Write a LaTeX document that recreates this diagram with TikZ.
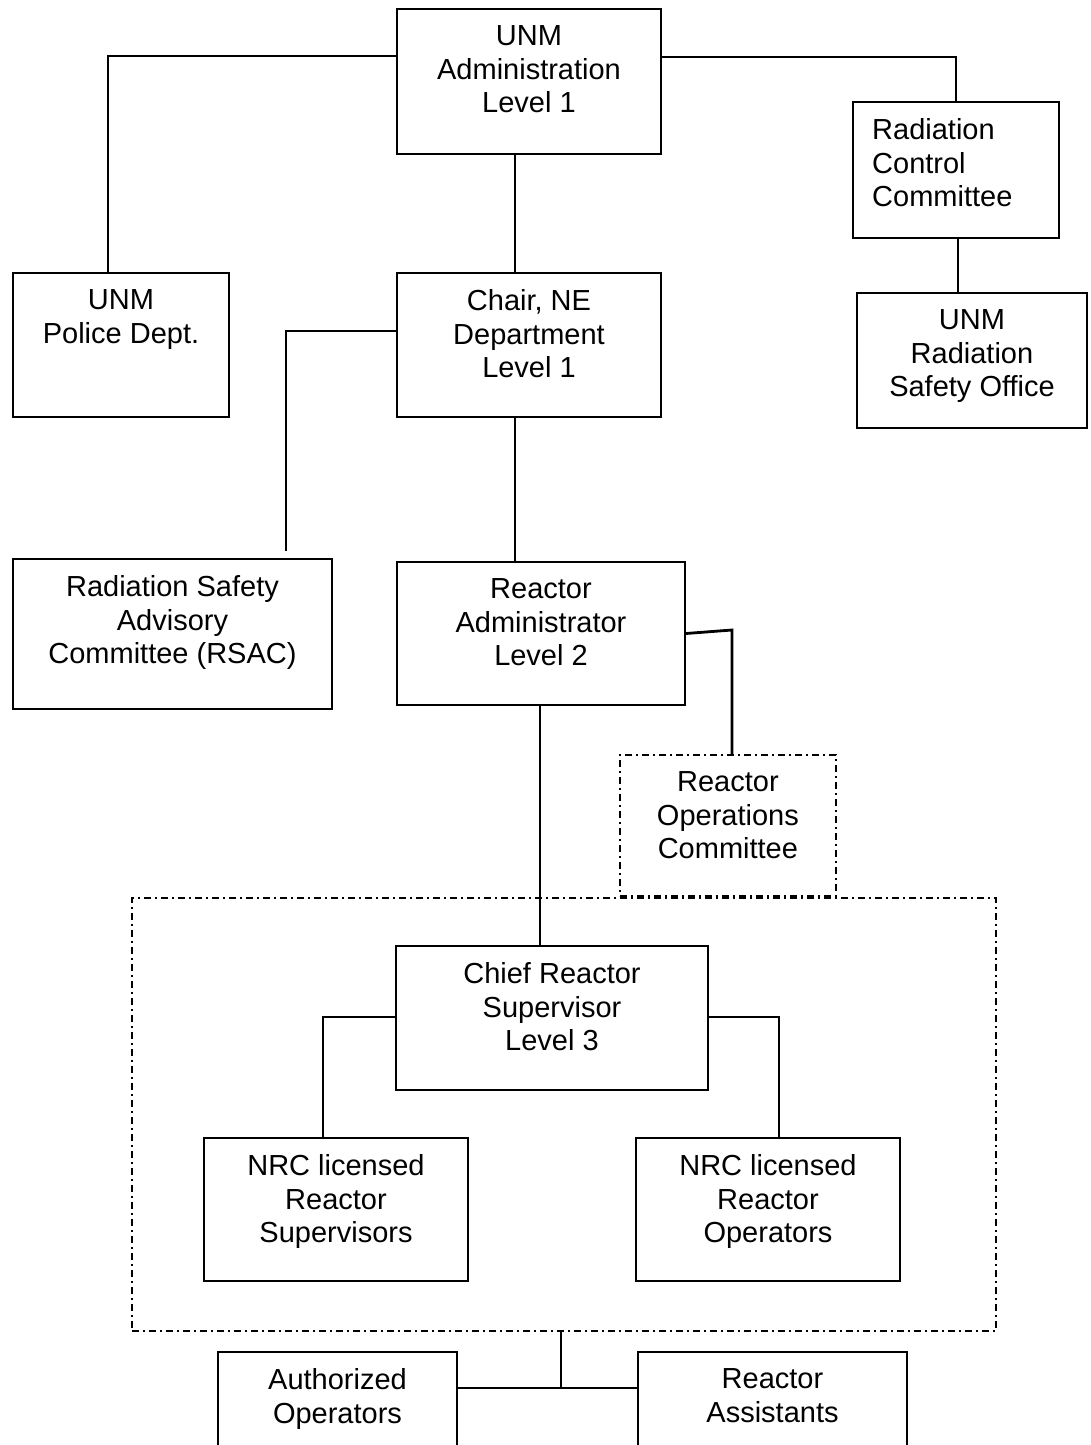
\documentclass[tikz,border=0pt]{standalone}
\usepackage{fontspec}
\setmainfont{Liberation Sans}
\begin{document}
\begin{tikzpicture}[x=1pt,y=-1pt,
  box/.style={draw, line width=2pt, inner sep=0pt, anchor=north west},
  ddbox/.style={draw, line width=1.8pt, inner sep=0pt, anchor=north west, dash pattern=on 7pt off 4pt on 2pt off 4pt},
  lbl/.style={anchor=north, inner sep=0pt, align=center, font=\fontsize{29}{33.5}\selectfont},
  conn/.style={line width=2.8pt},
  thinconn/.style={line width=2pt}]
\clip (0,0) rectangle (1090,1445);
\newcommand{\mybox}[7][box]{%
  \node[#1, minimum width=#5pt, minimum height=#6pt] (#2) at (#3,#4) {};
  \node[lbl, yshift=-17.5pt] (#2-t) at (#2.north) {#7};}
\mybox{admin}{396}{8}{264}{145}{UNM\\Administration\\Level 1}
\node[box, minimum width=206pt, minimum height=136pt] (rcc) at (852,101) {};
\node[lbl, anchor=north west, align=left, xshift=20pt, yshift=-17.5pt] (rcc-t) at (rcc.north west) {Radiation\\Control\\Committee};
\mybox{police}{12}{272}{216}{144}{UNM\\Police Dept.}
\mybox{chair}{396}{272}{264}{144}{Chair, NE\\Department\\Level 1}
\mybox{rso}{856}{292}{230}{135}{UNM\\Radiation\\Safety Office}
\mybox{rsac}{12}{558}{319}{150}{Radiation Safety\\Advisory\\Committee (RSAC)}
\mybox{radm}{396}{561}{288}{143}{Reactor\\Administrator\\Level 2}
\mybox[ddbox]{roc}{619}{754}{216}{141}{Reactor\\Operations\\Committee}
\node[ddbox, minimum width=864pt, minimum height=433pt] (big) at (131,897) {};
\mybox{chief}{395}{945}{312}{144}{Chief Reactor\\Supervisor\\Level 3}
\mybox{nrcs}{203}{1137}{264}{143}{NRC licensed\\Reactor\\Supervisors}
\mybox{nrco}{635}{1137}{264}{143}{NRC licensed\\Reactor\\Operators}
\mybox{ao}{217}{1351}{239}{120}{Authorized\\Operators}
\mybox{ra}{637}{1351}{269}{120}{Reactor\\Assistants}
% junction coordinates
\coordinate (j1) at (108,56);
\coordinate (j2) at (956,57);
\coordinate (j3) at (515,0);
\coordinate (j4) at (958,0);
\coordinate (j5) at (286,331);
\coordinate (j6) at (286,551);
\coordinate (j7) at (732,630);
\coordinate (j8) at (540,0);
\coordinate (j9) at (323,1017);
\coordinate (j10) at (779,1017);
\coordinate (j11) at (561,1388);
% connectors
\draw[conn] (admin.west |- j1) -- (j1) -- (j1 |- police.north);
\draw[conn] (admin.east |- j2) -- (j2) -- (j2 |- rcc.north);
\draw[conn] (j3 |- admin.south) -- (j3 |- chair.north);
\draw[thinconn] (j4 |- rcc.south) -- (j4 |- rso.north);
\draw[thinconn] (chair.west |- j5) -- (j5) -- (j6);
\draw[conn] (j3 |- chair.south) -- (j3 |- radm.north);
\draw[conn] (radm.east) -- (j7) -- (j7 |- roc.north);
\draw[conn] (j8 |- radm.south) -- (j8 |- chief.north);
\draw[conn] (chief.west |- j9) -- (j9) -- (j9 |- nrcs.north);
\draw[conn] (chief.east |- j10) -- (j10) -- (j10 |- nrco.north);
\draw[conn] (j11 |- big.south) -- (j11);
\draw[conn] (ao.east |- j11) -- (ra.west |- j11);
\end{tikzpicture}
\end{document}
